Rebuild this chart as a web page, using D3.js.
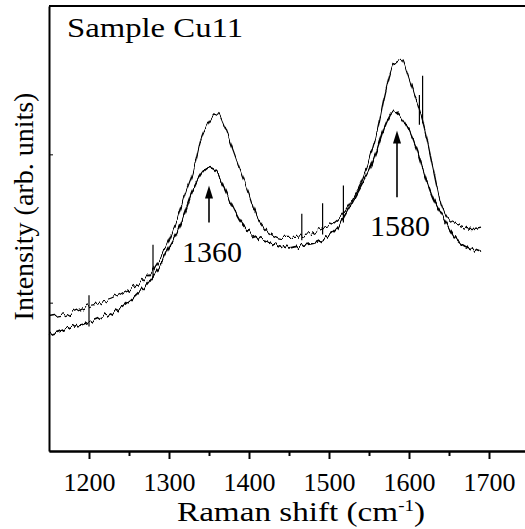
<!DOCTYPE html>
<html>
<head>
<meta charset="utf-8">
<script src="https://cdn.jsdelivr.net/npm/d3@7"></script>
<style>
  body { margin: 0; background: #fff; }
</style>
</head>
<body>
<div id="chart"></div>
<script>
// raman shift grid, cm-1
const shifts = [
    1150, 1160, 1170, 1180, 1190, 1200, 1210, 1220, 1230, 1240,
    1250, 1260, 1270, 1280, 1290, 1300, 1310, 1320, 1330, 1340,
    1350, 1360, 1370, 1380, 1390, 1400, 1410, 1420, 1430, 1440,
    1450, 1460, 1470, 1480, 1490, 1500, 1510, 1520, 1530, 1540,
    1550, 1560, 1570, 1580, 1590, 1600, 1610, 1620, 1630, 1640,
    1650, 1660, 1670, 1680, 1690
];

// spectrum with the taller peaks (arb. units)
const upperSpectrum = [
    0.90, 0.91, 0.92, 0.94, 0.96, 0.98, 0.99, 1.01, 1.03, 1.06,
    1.09, 1.12, 1.16, 1.22, 1.31, 1.42, 1.56, 1.73, 1.88, 2.10,
    2.22, 2.28, 2.18, 2.03, 1.88, 1.73, 1.58, 1.50, 1.46, 1.44,
    1.44, 1.44, 1.46, 1.47, 1.50, 1.52, 1.56, 1.62, 1.71, 1.81,
    1.96, 2.15, 2.41, 2.60, 2.64, 2.51, 2.35, 2.16, 1.91, 1.67,
    1.56, 1.53, 1.51, 1.50, 1.51
];

// spectrum with the lower peaks (arb. units)
const lowerSpectrum = [
    0.78, 0.80, 0.82, 0.84, 0.85, 0.87, 0.89, 0.91, 0.94, 0.97,
    1.01, 1.06, 1.11, 1.18, 1.26, 1.37, 1.47, 1.61, 1.76, 1.86,
    1.91, 1.88, 1.76, 1.64, 1.54, 1.48, 1.44, 1.42, 1.40, 1.38,
    1.37, 1.38, 1.39, 1.40, 1.42, 1.45, 1.50, 1.59, 1.69, 1.79,
    1.89, 2.03, 2.19, 2.29, 2.25, 2.16, 2.03, 1.85, 1.70, 1.60,
    1.50, 1.42, 1.38, 1.36, 1.34
];

// narrow spikes in the spectra
const spikeShifts = [1200, 1280, 1466, 1492, 1518, 1613, 1617];
const spikeLows = [0.84, 1.17, 1.42, 1.46, 1.54, 2.20, 2.21];
const spikeHighs = [1.05, 1.39, 1.60, 1.67, 1.79, 2.40, 2.53];

// peak markers
const peakShifts = [1350, 1585];
const peakArrowBase = [1.54, 1.71];
const peakArrowTip = [1.79, 2.16];
const peakLabels = ['1360', '1580'];

const xMajorTicks = [1200, 1300, 1400, 1500, 1600, 1700];
const xMinorTicks = [1250, 1350, 1450, 1550, 1650, 1750];
const yTicks = [1, 2];

const SERIF = "'Liberation Serif'";

class RamanChart {
    constructor(_config) {
        this.config = {
            parentElement: _config.parentElement,
            containerWidth: 525,
            containerHeight: 529,
            margin: { top: 6, right: -4, bottom: 78, left: 49 },
        };
        this.initVis();
    }

    initVis() {
        const vis = this;

        vis.config.width = vis.config.containerWidth
            - vis.config.margin.left - vis.config.margin.right;
        vis.config.height = vis.config.containerHeight
            - vis.config.margin.top - vis.config.margin.bottom;

        vis.svg = d3.select(vis.config.parentElement).append('svg')
            .attr('width', vis.config.containerWidth)
            .attr('height', vis.config.containerHeight)
            .style('display', 'block');

        // noisy look of the measured traces
        const filter = vis.svg.append('defs').append('filter')
            .attr('id', 'jitter')
            .attr('filterUnits', 'userSpaceOnUse')
            .attr('x', -vis.config.margin.left)
            .attr('y', -vis.config.margin.top)
            .attr('width', vis.config.containerWidth)
            .attr('height', vis.config.containerHeight)
            .attr('color-interpolation-filters', 'sRGB');
        filter.append('feTurbulence')
            .attr('type', 'fractalNoise')
            .attr('baseFrequency', '0.35 0.05')
            .attr('numOctaves', 1)
            .attr('seed', 7)
            .attr('result', 'noise');
        const transfer = filter.append('feComponentTransfer')
            .attr('in', 'noise')
            .attr('result', 'map');
        transfer.append('feFuncR').attr('type', 'linear').attr('slope', 0).attr('intercept', 0.5);
        transfer.append('feFuncA').attr('type', 'linear').attr('slope', 0).attr('intercept', 1);
        filter.append('feDisplacementMap')
            .attr('in', 'SourceGraphic')
            .attr('in2', 'map')
            .attr('scale', 11)
            .attr('xChannelSelector', 'R')
            .attr('yChannelSelector', 'G');

        vis.chart = vis.svg.append('g')
            .attr('transform', `translate(${vis.config.margin.left},${vis.config.margin.top})`);

        vis.xScale = d3.scaleLinear()
            .domain([1150, 1750])
            .range([0, vis.config.width]);
        vis.yScale = d3.scaleLinear()
            .domain([0, 3])
            .range([vis.config.height, 0]);

        vis.xAxis = d3.axisBottom(vis.xScale)
            .tickValues(xMajorTicks)
            .tickSize(8)
            .tickSizeOuter(0)
            .tickPadding(14)
            .tickFormat(d3.format('d'));
        vis.xMinorAxis = d3.axisBottom(vis.xScale)
            .tickValues(xMinorTicks)
            .tickSize(5)
            .tickSizeOuter(0)
            .tickFormat('');
        vis.yAxis = d3.axisLeft(vis.yScale)
            .tickValues(yTicks)
            .tickSize(-4)
            .tickSizeOuter(0)
            .tickFormat('');

        vis.xMinorGroup = vis.chart.append('g')
            .attr('class', 'axis x-minor')
            .attr('transform', `translate(0,${vis.config.height})`);
        vis.xAxisGroup = vis.chart.append('g')
            .attr('class', 'axis x-axis')
            .attr('transform', `translate(0,${vis.config.height})`);
        vis.yAxisGroup = vis.chart.append('g')
            .attr('class', 'axis y-axis');

        // top and right frame
        vis.chart.append('line')
            .attr('x1', 0).attr('x2', vis.config.width)
            .attr('y1', 0).attr('y2', 0)
            .attr('stroke', '#000').attr('stroke-width', 2);
        vis.chart.append('line')
            .attr('x1', vis.config.width).attr('x2', vis.config.width)
            .attr('y1', 0).attr('y2', vis.config.height)
            .attr('stroke', '#000').attr('stroke-width', 2);

        vis.processedData = [
            { name: 'upper', width: 1.3, values: shifts.map((s, i) => ({ shift: s, value: upperSpectrum[i] })) },
            { name: 'lower', width: 1.7, values: shifts.map((s, i) => ({ shift: s, value: lowerSpectrum[i] })) },
        ];
        vis.spikes = spikeShifts.map((s, i) => ({ shift: s, low: spikeLows[i], high: spikeHighs[i] }));
        vis.peaks = peakShifts.map((s, i) => ({
            shift: s, base: peakArrowBase[i], tip: peakArrowTip[i], label: peakLabels[i],
        }));

        vis.updateVis();
    }

    updateVis() {
        const vis = this;

        vis.xValue = (d) => d.shift;
        vis.yValue = (d) => d.value;

        vis.lineFunc = d3.line()
            .curve(d3.curveMonotoneX)
            .x((d) => vis.xScale(vis.xValue(d)))
            .y((d) => vis.yScale(vis.yValue(d)));

        vis.renderVis();
    }

    renderVis() {
        const vis = this;

        // spectra
        vis.chart.selectAll('.spectrum')
                .data(vis.processedData)
            .join('path')
                .attr('class', 'spectrum')
                .attr('d', (d) => vis.lineFunc(d.values))
                .attr('fill', 'none')
                .attr('stroke', '#000')
                .attr('stroke-width', (d) => d.width)
                .attr('filter', 'url(#jitter)');

        // spikes
        vis.chart.selectAll('.spike')
                .data(vis.spikes)
            .join('line')
                .attr('class', 'spike')
                .attr('x1', (d) => vis.xScale(d.shift))
                .attr('x2', (d) => vis.xScale(d.shift))
                .attr('y1', (d) => vis.yScale(d.low))
                .attr('y2', (d) => vis.yScale(d.high))
                .attr('stroke', '#000')
                .attr('stroke-width', 1.2);

        // arrows
        vis.chart.selectAll('.peak-arrow')
                .data(vis.peaks)
            .join('line')
                .attr('class', 'peak-arrow')
                .attr('x1', (d) => vis.xScale(d.shift))
                .attr('x2', (d) => vis.xScale(d.shift))
                .attr('y1', (d) => vis.yScale(d.base))
                .attr('y2', (d) => vis.yScale(d.tip) + 10)
                .attr('stroke', '#000')
                .attr('stroke-width', 1.6);
        vis.chart.selectAll('.peak-head')
                .data(vis.peaks)
            .join('path')
                .attr('class', 'peak-head')
                .attr('d', (d) => {
                    const x = vis.xScale(d.shift);
                    const y = vis.yScale(d.tip);
                    return `M${x},${y}L${x - 4},${y + 13}L${x + 4},${y + 13}Z`;
                })
                .attr('fill', '#000');
        vis.chart.selectAll('.peak-label')
                .data(vis.peaks)
            .join('text')
                .attr('class', 'peak-label')
                .attr('x', (d) => vis.xScale(d.shift) + 3)
                .attr('y', (d) => vis.yScale(d.base) + 39)
                .attr('text-anchor', 'middle')
                .attr('font-size', 30)
                .style('font-family', SERIF)
                .text((d) => d.label);

        // axes
        vis.xMinorGroup.call(vis.xMinorAxis);
        vis.xAxisGroup.call(vis.xAxis);
        vis.yAxisGroup.call(vis.yAxis);

        vis.chart.selectAll('.axis .domain').attr('stroke-width', 2);
        vis.xAxisGroup.selectAll('.tick line').attr('stroke-width', 2);
        vis.xMinorGroup.selectAll('.tick line').attr('stroke-width', 2);
        vis.xAxisGroup.selectAll('.tick text')
            .attr('font-size', 25)
            .attr('fill', '#000')
            .attr('textLength', 52)
            .attr('lengthAdjust', 'spacingAndGlyphs')
            .style('font-family', SERIF);

        // titles
        vis.svg.append('text')
            .attr('x', 67)
            .attr('y', 37)
            .attr('font-size', 28)
            .attr('textLength', 176)
            .attr('lengthAdjust', 'spacingAndGlyphs')
            .style('font-family', SERIF)
            .text('Sample Cu11');

        vis.svg.append('text')
            .attr('transform', `translate(33,${vis.config.margin.top + vis.config.height / 2 - 22}) rotate(-90)`)
            .attr('text-anchor', 'middle')
            .attr('font-size', 28)
            .style('font-family', SERIF)
            .text('Intensity (arb. units)');

        const xTitle = vis.svg.append('text')
            .attr('x', 177)
            .attr('y', 521)
            .attr('font-size', 28)
            .attr('textLength', 248)
            .attr('lengthAdjust', 'spacingAndGlyphs')
            .style('font-family', SERIF);
        xTitle.append('tspan').text('Raman shift (cm');
        xTitle.append('tspan').attr('dy', -10).attr('font-size', 16).text('-1');
        xTitle.append('tspan').attr('dy', 10).text(')');
    }
}

new RamanChart({ parentElement: '#chart' });
</script>
</body>
</html>
